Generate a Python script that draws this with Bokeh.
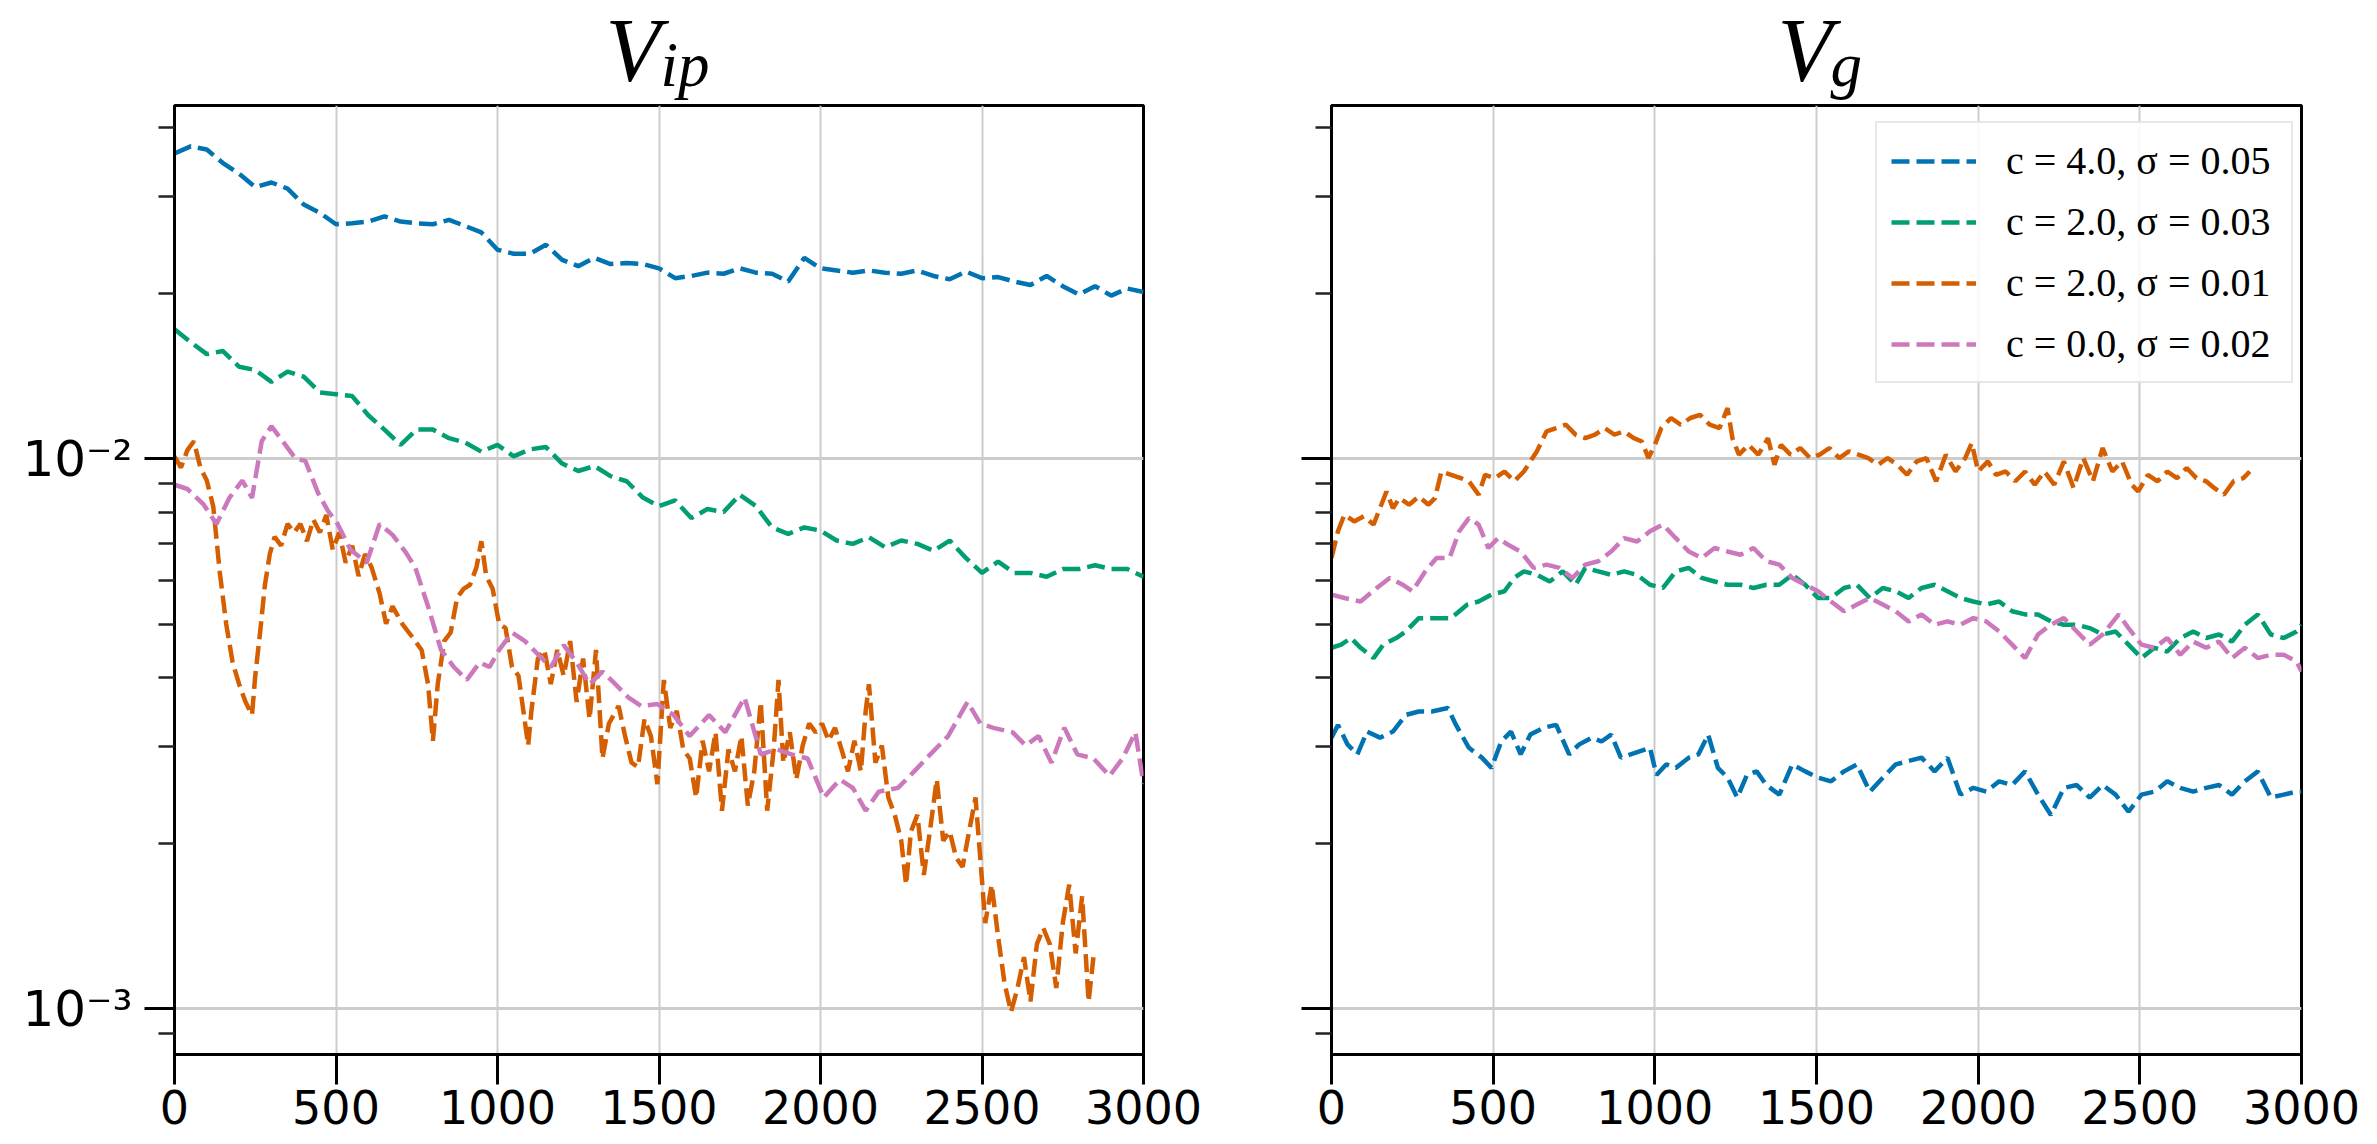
import math
from bokeh.plotting import figure
from bokeh.layouts import row, column
from bokeh.models import Range1d, FixedTicker, Label
from bokeh.embed import file_html
from bokeh.resources import INLINE

# ---------------- data ----------------
x_ticks = [0, 500, 1000, 1500, 2000, 2500, 3000]
y_major = [0.001, 0.01]
y_minor = [0.0009, 0.002, 0.003, 0.004, 0.005, 0.006, 0.007, 0.008, 0.009, 0.02, 0.03, 0.04]
y_tick_labels = {0.001: "10⁻³", 0.01: "10⁻²"}

panel_titles = [("V", "ip"), ("V", "g")]
series_labels = ["c = 4.0, σ = 0.05", "c = 2.0, σ = 0.03", "c = 2.0, σ = 0.01", "c = 0.0, σ = 0.02"]
series_colors = ["#0173b2", "#029e73", "#d55e00", "#cc78bc"]

steps50 = list(range(0, 3001, 50))

# left panel: V_ip
blue_ip = [0.0359, 0.0370, 0.0365, 0.0345, 0.0330, 0.0312, 0.0318, 0.0310, 0.0290, 0.0280,
           0.0267, 0.0268, 0.0270, 0.0276, 0.0270, 0.0268, 0.0267, 0.0272, 0.0265, 0.0258,
           0.0240, 0.0236, 0.0236, 0.0245, 0.0230, 0.0224, 0.0232, 0.0226, 0.0227, 0.0226,
           0.0222, 0.0213, 0.0215, 0.0218, 0.0217, 0.0222, 0.0218, 0.0217, 0.0210, 0.0232,
           0.0222, 0.0220, 0.0218, 0.0220, 0.0218, 0.0217, 0.0220, 0.0215, 0.0212, 0.0219,
           0.0213, 0.0214, 0.0210, 0.0207, 0.0215, 0.0206, 0.0199, 0.0206, 0.0198, 0.0204,
           0.0201]
green_ip = [0.0172, 0.0163, 0.0155, 0.0157, 0.0147, 0.0145, 0.0138, 0.0144, 0.0141, 0.0132,
            0.0131, 0.0130, 0.0120, 0.0113, 0.0106, 0.0113, 0.0113, 0.0109, 0.0107, 0.0103,
            0.0106, 0.0101, 0.0104, 0.0105, 0.0098, 0.0095, 0.0097, 0.0093, 0.0091, 0.0085,
            0.0082, 0.0084, 0.0078, 0.0081, 0.0080, 0.0086, 0.0082, 0.0075, 0.0073, 0.0075,
            0.0074, 0.0071, 0.0070, 0.0072, 0.0069, 0.0071, 0.0070, 0.0068, 0.0071, 0.0066,
            0.0062, 0.0065, 0.0062, 0.0062, 0.0061, 0.0063, 0.0063, 0.0064, 0.0063, 0.0063,
            0.0061]
orange_ip_x = [0, 20, 40, 60, 80, 100, 120, 140, 160, 180,
               200, 220, 240, 250, 265, 280, 295, 310, 330, 350,
               370, 390, 410, 430, 450, 470, 490, 510, 530, 550,
               570, 590, 610, 635, 655, 675, 705, 735, 765, 785,
               800, 815, 835, 855, 875, 895, 915, 935, 950, 965,
               985, 1005, 1025, 1045, 1065, 1095, 1105, 1125, 1145, 1165,
               1185, 1205, 1225, 1245, 1265, 1285, 1305, 1325, 1345, 1375,
               1395, 1415, 1435, 1455, 1475, 1495, 1515, 1535, 1555, 1575,
               1595, 1615, 1635, 1655, 1675, 1695, 1715, 1735, 1755, 1775,
               1795, 1815, 1835, 1855, 1870, 1885, 1905, 1925, 1945, 1965,
               1985, 2005, 2025, 2045, 2065, 2085, 2105, 2125, 2140, 2150,
               2170, 2190, 2210, 2230, 2250, 2265, 2280, 2300, 2320, 2340,
               2360, 2380, 2400, 2420, 2440, 2460, 2480, 2500, 2510, 2530,
               2550, 2570, 2590, 2610, 2630, 2650, 2670, 2690, 2710, 2730,
               2750, 2770, 2790, 2810, 2830, 2845]
orange_ip = [0.01009, 0.00964, 0.01037, 0.01076, 0.00964, 0.00913, 0.00819, 0.00623, 0.00501, 0.00426,
             0.00389, 0.00361, 0.00342, 0.00403, 0.00483, 0.00590, 0.00671, 0.00721, 0.00695, 0.00761,
             0.00734, 0.00761, 0.00708, 0.00775, 0.00734, 0.00790, 0.00683, 0.00734, 0.00647, 0.00695,
             0.00612, 0.00671, 0.00635, 0.00569, 0.00501, 0.00539, 0.00501, 0.00475, 0.00449, 0.00389,
             0.00307, 0.00389, 0.00466, 0.00483, 0.00559, 0.00580, 0.00590, 0.00635, 0.00708, 0.00612,
             0.00580, 0.00501, 0.00492, 0.00418, 0.00403, 0.00301, 0.00348, 0.00433, 0.00449, 0.00389,
             0.00449, 0.00403, 0.00466, 0.00361, 0.00433, 0.00336, 0.00449, 0.00285, 0.00330, 0.00355,
             0.00313, 0.00280, 0.00275, 0.00336, 0.00313, 0.00256, 0.00396, 0.00324, 0.00348, 0.00296,
             0.00285, 0.00242, 0.00307, 0.00270, 0.00318, 0.00229, 0.00296, 0.00270, 0.00313, 0.00234,
             0.00270, 0.00361, 0.00229, 0.00296, 0.00396, 0.00280, 0.00318, 0.00261, 0.00301, 0.00330,
             0.00318, 0.00330, 0.00307, 0.00324, 0.00296, 0.00270, 0.00307, 0.00270, 0.00348, 0.00389,
             0.00280, 0.00301, 0.00242, 0.00225, 0.00202, 0.00168, 0.00210, 0.00225, 0.00175, 0.00213,
             0.00261, 0.00202, 0.00210, 0.00188, 0.00181, 0.00210, 0.00242, 0.00171, 0.00143, 0.00168,
             0.00135, 0.00111, 0.000986, 0.00109, 0.00124, 0.00103, 0.00131, 0.00140, 0.00131, 0.00109,
             0.00143, 0.00168, 0.00126, 0.00160, 0.00103, 0.00124]
pink_ip_x = [0, 40, 90, 130, 170, 210, 240, 270, 300, 335,
             375, 405, 445, 475, 505, 545, 595, 635, 675, 715,
             745, 785, 825, 865, 905, 945, 975, 1005, 1045, 1085,
             1125, 1165, 1205, 1245, 1285, 1325, 1365, 1405, 1445, 1495,
             1545, 1595, 1655, 1705, 1765, 1815, 1865, 1910, 1960, 2010,
             2060, 2100, 2140, 2180, 2240, 2290, 2340, 2395, 2455, 2495,
             2535, 2595, 2635, 2675, 2715, 2755, 2795, 2845, 2895, 2935,
             2975, 3000]
pink_ip = [0.00897, 0.00881, 0.00826, 0.00761, 0.00849, 0.00913, 0.00849, 0.01076, 0.01146, 0.01076,
           0.01000, 0.00991, 0.00865, 0.00804, 0.00761, 0.00683, 0.00647, 0.00761, 0.00727, 0.00677,
           0.00635, 0.00539, 0.00449, 0.00418, 0.00396, 0.00426, 0.00418, 0.00449, 0.00483, 0.00466,
           0.00441, 0.00418, 0.00458, 0.00426, 0.00389, 0.00410, 0.00389, 0.00368, 0.00355, 0.00358,
           0.00342, 0.00313, 0.00342, 0.00318, 0.00368, 0.00290, 0.00296, 0.00290, 0.00285, 0.00242,
           0.00261, 0.00252, 0.00229, 0.00248, 0.00252, 0.00270, 0.00290, 0.00313, 0.00361, 0.00330,
           0.00324, 0.00318, 0.00301, 0.00313, 0.00280, 0.00324, 0.00290, 0.00285, 0.00265, 0.00285,
           0.00318, 0.00256]

# right panel: V_g
blue_g_x = [0, 20, 50, 80, 110, 150, 190, 230, 270, 310,
            360, 385, 425, 465, 495, 525, 555, 585, 615, 655,
            695, 735, 765, 805, 835, 865, 895, 925, 955, 985,
            1005, 1035, 1065, 1105, 1135, 1165, 1195, 1225, 1255, 1285,
            1315, 1345, 1385, 1425, 1465, 1505, 1545, 1585, 1625, 1665,
            1705, 1745, 1785, 1825, 1865, 1905, 1945, 1985, 2025, 2065,
            2105, 2145, 2185, 2225, 2265, 2305, 2345, 2385, 2425, 2465,
            2505, 2545, 2585, 2625, 2665, 2705, 2745, 2785, 2825, 2865,
            2905, 2945, 2985, 3000]
blue_g = [0.00311, 0.00328, 0.00302, 0.00290, 0.00319, 0.00311, 0.00319, 0.00342, 0.00347, 0.00347,
          0.00352, 0.00328, 0.00298, 0.00286, 0.00274, 0.00306, 0.00319, 0.00290, 0.00315, 0.00324,
          0.00328, 0.00290, 0.00302, 0.00311, 0.00306, 0.00315, 0.00286, 0.00290, 0.00294, 0.00298,
          0.00266, 0.00278, 0.00274, 0.00286, 0.00290, 0.00315, 0.00274, 0.00263, 0.00242, 0.00266,
          0.00270, 0.00255, 0.00245, 0.00278, 0.00270, 0.00263, 0.00259, 0.00270, 0.00278, 0.00248,
          0.00263, 0.00278, 0.00282, 0.00286, 0.00270, 0.00286, 0.00245, 0.00252, 0.00248, 0.00259,
          0.00255, 0.00270, 0.00245, 0.00225, 0.00252, 0.00255, 0.00242, 0.00255, 0.00245, 0.00228,
          0.00245, 0.00248, 0.00259, 0.00252, 0.00248, 0.00252, 0.00255, 0.00245, 0.00259, 0.00270,
          0.00242, 0.00245, 0.00248, 0.00248]
green_g_x = [0, 30, 60, 90, 130, 160, 200, 230, 270, 320,
             370, 420, 455, 495, 535, 565, 595, 635, 675, 715,
             755, 785, 825, 865, 905, 945, 985, 1025, 1065, 1105,
             1145, 1185, 1225, 1265, 1305, 1345, 1385, 1425, 1465, 1505,
             1545, 1585, 1625, 1665, 1705, 1745, 1785, 1825, 1865, 1905,
             1945, 1985, 2025, 2065, 2105, 2145, 2185, 2225, 2265, 2305,
             2345, 2385, 2425, 2465, 2505, 2545, 2585, 2625, 2665, 2705,
             2745, 2785, 2825, 2865, 2905, 2945, 2985, 3000]
green_g = [0.00453, 0.00459, 0.00472, 0.00453, 0.00434, 0.00459, 0.00472, 0.00485, 0.00513, 0.00513,
           0.00513, 0.00543, 0.00550, 0.00566, 0.00574, 0.00607, 0.00624, 0.00615, 0.00598, 0.00624,
           0.00590, 0.00633, 0.00624, 0.00615, 0.00624, 0.00615, 0.00590, 0.00582, 0.00624, 0.00633,
           0.00607, 0.00598, 0.00590, 0.00590, 0.00582, 0.00590, 0.00590, 0.00615, 0.00590, 0.00558,
           0.00558, 0.00582, 0.00590, 0.00558, 0.00582, 0.00574, 0.00558, 0.00582, 0.00590, 0.00574,
           0.00558, 0.00550, 0.00543, 0.00550, 0.00528, 0.00521, 0.00521, 0.00506, 0.00499, 0.00499,
           0.00492, 0.00479, 0.00485, 0.00459, 0.00434, 0.00453, 0.00446, 0.00472, 0.00485, 0.00472,
           0.00479, 0.00465, 0.00499, 0.00521, 0.00479, 0.00472, 0.00485, 0.00499]
orange_g_x = [0, 20, 40, 70, 100, 130, 150, 170, 190, 210,
              240, 270, 300, 320, 340, 370, 400, 425, 455, 475,
              505, 535, 565, 595, 615, 635, 665, 695, 725, 755,
              785, 815, 845, 875, 905, 935, 960, 980, 1000, 1020,
              1050, 1080, 1110, 1140, 1170, 1200, 1225, 1240, 1260, 1290,
              1320, 1350, 1370, 1390, 1420, 1450, 1480, 1510, 1540, 1570,
              1600, 1630, 1660, 1690, 1720, 1750, 1780, 1810, 1840, 1870,
              1900, 1930, 1960, 1980, 2000, 2030, 2055, 2085, 2115, 2145,
              2175, 2205, 2235, 2265, 2295, 2325, 2355, 2385, 2415, 2445,
              2475, 2495, 2525, 2555, 2585, 2615, 2645, 2675, 2705, 2730,
              2760, 2790, 2820, 2840]
orange_g = [0.00660, 0.00738, 0.00791, 0.00769, 0.00786, 0.00759, 0.00813, 0.00872, 0.00813, 0.00848,
            0.00825, 0.00854, 0.00825, 0.00848, 0.00948, 0.00935, 0.00922, 0.00910, 0.00860, 0.00935,
            0.00922, 0.00948, 0.00910, 0.00948, 0.00989, 0.01031, 0.01121, 0.01137, 0.01153, 0.01106,
            0.01090, 0.01106, 0.01137, 0.01106, 0.01121, 0.01090, 0.01075, 0.01003, 0.01060, 0.01137,
            0.01186, 0.01153, 0.01186, 0.01202, 0.01153, 0.01137, 0.01236, 0.01090, 0.01017, 0.01060,
            0.01017, 0.01090, 0.00975, 0.01060, 0.01017, 0.01046, 0.01003, 0.01017, 0.01046, 0.01003,
            0.01031, 0.01017, 0.01003, 0.00975, 0.01003, 0.00975, 0.00935, 0.00989, 0.01003, 0.00910,
            0.01017, 0.00948, 0.01003, 0.01068, 0.00948, 0.00989, 0.00935, 0.00948, 0.00910, 0.00948,
            0.00897, 0.00948, 0.00897, 0.00989, 0.00885, 0.01003, 0.00910, 0.01046, 0.00948, 0.00989,
            0.00897, 0.00872, 0.00935, 0.00910, 0.00948, 0.00922, 0.00962, 0.00922, 0.00910, 0.00885,
            0.00860, 0.00910, 0.00922, 0.00948]
pink_g_x = [0, 40, 90, 140, 180, 220, 250, 290, 325, 365,
            395, 425, 455, 485, 515, 545, 585, 625, 665, 705,
            745, 785, 825, 865, 905, 945, 985, 1025, 1065, 1105,
            1145, 1185, 1225, 1265, 1305, 1345, 1385, 1425, 1465, 1505,
            1545, 1585, 1625, 1665, 1705, 1745, 1785, 1825, 1865, 1905,
            1945, 1985, 2025, 2065, 2105, 2145, 2185, 2225, 2265, 2305,
            2345, 2385, 2435, 2465, 2505, 2545, 2585, 2625, 2665, 2705,
            2745, 2785, 2825, 2865, 2905, 2945, 2985, 3000]
pink_g = [0.00566, 0.00558, 0.00550, 0.00582, 0.00607, 0.00590, 0.00574, 0.00624, 0.00660, 0.00660,
          0.00738, 0.00780, 0.00759, 0.00688, 0.00717, 0.00698, 0.00678, 0.00633, 0.00642, 0.00633,
          0.00607, 0.00642, 0.00651, 0.00678, 0.00717, 0.00707, 0.00738, 0.00759, 0.00717, 0.00678,
          0.00660, 0.00688, 0.00678, 0.00669, 0.00688, 0.00651, 0.00642, 0.00607, 0.00590, 0.00574,
          0.00550, 0.00528, 0.00543, 0.00558, 0.00543, 0.00528, 0.00506, 0.00521, 0.00499, 0.00506,
          0.00499, 0.00513, 0.00506, 0.00485, 0.00459, 0.00434, 0.00479, 0.00499, 0.00513, 0.00485,
          0.00459, 0.00479, 0.00521, 0.00492, 0.00459, 0.00453, 0.00472, 0.00440, 0.00465, 0.00453,
          0.00465, 0.00434, 0.00453, 0.00434, 0.00440, 0.00440, 0.00428, 0.00410]

left_series = [(steps50, blue_ip), (steps50, green_ip), (orange_ip_x, orange_ip), (pink_ip_x, pink_ip)]
right_series = [(blue_g_x, blue_g), (green_g_x, green_g), (orange_g_x, orange_g), (pink_g_x, pink_g)]
for xs, ys in left_series + right_series:
    assert len(xs) == len(ys), (len(xs), len(ys))

# ---------------- layout ----------------
Y_LO, Y_HI = 0.000825, 0.0439
TITLE_H = 100
FRAME_H = 949
FONT = "DejaVu Sans"
SERIF = "Liberation Serif"
LW = 4.5
DASH = "18 7"
MAIN_SIZE, SUB_SIZE = 90, 63
MAIN_BASE, SUB_BASE = 80, 86   # baselines, px from the top of the page
MID = 0.3375  # distance from alphabetic baseline to the middle of the text box, in em


def make_fig(frame_w, border_l, border_r, show_labels):
    p = figure(frame_width=frame_w, frame_height=FRAME_H,
               x_range=Range1d(0, 3000), y_range=Range1d(Y_LO, Y_HI),
               y_axis_type="log", output_backend="svg", toolbar_location=None,
               min_border_left=border_l, min_border_right=border_r,
               min_border_top=5, min_border_bottom=80,
               background_fill_color="white", border_fill_color="white")
    p.outline_line_color = "black"
    p.outline_line_width = 3
    p.xaxis.ticker = FixedTicker(ticks=x_ticks)
    p.yaxis.ticker = FixedTicker(ticks=y_major, minor_ticks=y_minor)
    if show_labels:
        p.yaxis.major_label_overrides = y_tick_labels
    else:
        p.yaxis.major_label_overrides = {k: "" for k in y_tick_labels}
    for ax in (p.xaxis[0], p.yaxis[0]):
        ax.axis_line_color = "black"
        ax.axis_line_width = 3
        ax.major_tick_line_color = "black"
        ax.major_tick_line_width = 3
        ax.major_tick_in = 0
        ax.major_tick_out = 30
        ax.minor_tick_line_color = "#222222"
        ax.minor_tick_line_width = 2.5
        ax.minor_tick_in = 0
        ax.minor_tick_out = 16
        ax.major_label_text_font = FONT
        ax.major_label_text_color = "black"
    p.xaxis.major_label_text_font_size = "46px"
    p.yaxis.major_label_text_font_size = "50px"
    p.xaxis.minor_tick_line_color = None
    p.xaxis.major_label_standoff = 5
    p.yaxis.major_label_standoff = 12
    p.xgrid.ticker = FixedTicker(ticks=x_ticks)
    p.ygrid.ticker = FixedTicker(ticks=y_major)
    p.xgrid.grid_line_color = "#cccccc"
    p.xgrid.grid_line_width = 2
    p.ygrid.grid_line_color = "#cccccc"
    p.ygrid.grid_line_width = 3
    return p


def make_title(width, main_x, sub_x, main_text, sub_text):
    # a bare strip above each panel whose data units are its own pixels
    t = figure(width=width, height=TITLE_H, x_range=Range1d(0, width), y_range=Range1d(0, TITLE_H),
               min_border=0, output_backend="svg", toolbar_location=None,
               background_fill_color="white", border_fill_color="white")
    t.xaxis.visible = False
    t.yaxis.visible = False
    t.grid.visible = False
    t.outline_line_color = None
    t.add_layout(Label(x=main_x, y=TITLE_H - (MAIN_BASE - MID * MAIN_SIZE), text=main_text,
                       text_font=SERIF, text_font_style="italic", text_font_size=f"{MAIN_SIZE}px",
                       text_align="left", text_baseline="middle", text_color="black"))
    t.add_layout(Label(x=sub_x, y=TITLE_H - (SUB_BASE - MID * SUB_SIZE), text=sub_text,
                       text_font=SERIF, text_font_style="italic", text_font_size=f"{SUB_SIZE}px",
                       text_align="left", text_baseline="middle", text_color="black"))
    return t


p1 = make_fig(969, 174, 107, True)
p2 = make_fig(970, 81, 76, False)

for (xs, ys), c in zip(left_series, series_colors):
    p1.line(xs, ys, line_color=c, line_width=LW, line_dash=DASH)
for (xs, ys), c, lab in zip(right_series, series_colors, series_labels):
    p2.line(xs, ys, line_color=c, line_width=LW, line_dash=DASH, legend_label=lab)

t1 = make_title(1250, 605, 660, *panel_titles[0])
t2 = make_title(1127, 527, 580, *panel_titles[1])

lg = p2.legend[0]
lg.location = (544, 671)
lg.margin = 0
lg.padding = 14
lg.spacing = 14
lg.glyph_width = 85
lg.glyph_height = 46
lg.label_height = 46
lg.label_width = 271
lg.label_standoff = 30
lg.label_text_font = SERIF
lg.label_text_font_size = "40px"
lg.label_text_color = "black"
lg.border_line_color = "#d0d0d0"
lg.border_line_width = 2
lg.background_fill_alpha = 0.85

layout = column(row(t1, t2), row(p1, p2))
open("out.html", "w").write(file_html(layout, INLINE))
